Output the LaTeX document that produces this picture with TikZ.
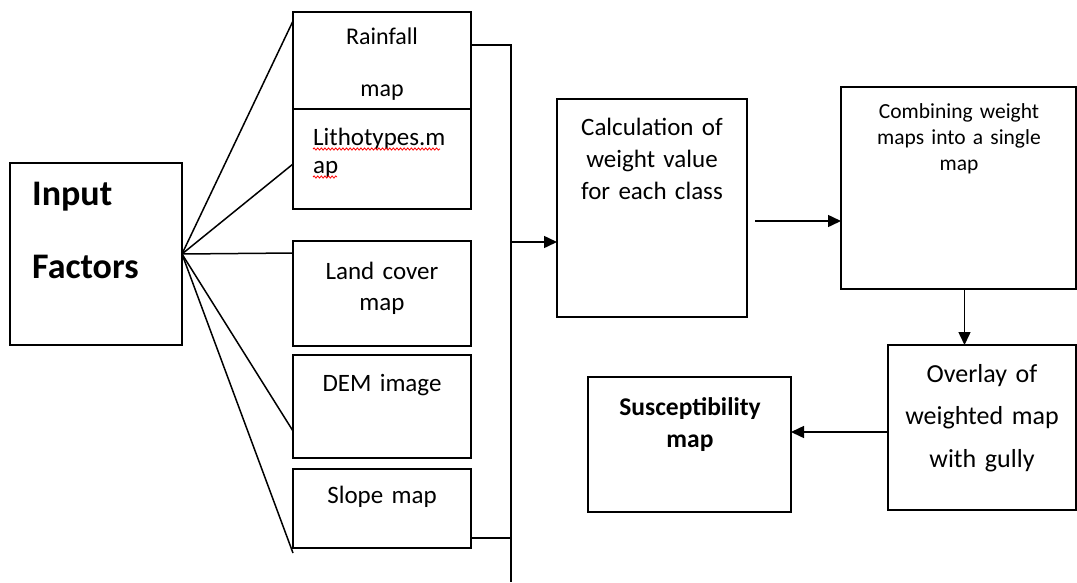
\documentclass[tikz,border=0pt]{standalone}
\usepackage{fontspec}
\setmainfont{Carlito}
\usetikzlibrary{calc,positioning,arrows.meta,decorations.pathmorphing}

\begin{document}
\begin{tikzpicture}[x=1pt, y=-1pt,
    box/.style={draw, line width=1.5pt, inner sep=0pt, outer sep=0pt, anchor=north west},
    txt/.style={anchor=base, inner sep=0pt, align=center, text width=#1},
    txt/.default=200pt,
    link/.style={line width=1.5pt},
    arr/.style={line width=1.5pt, -{Triangle[length=13pt,width=12pt]}},
    squig/.style={red, line width=0.8pt, decorate,
        decoration={snake, amplitude=1.1pt, segment length=3.6pt}}]
    \useasboundingbox (0,0) rectangle (1077,582);

    % input factors
    \node[box, minimum width=172pt, minimum height=182pt] (input) at (10,163) {};
    \node[anchor=base west, inner sep=0pt, align=left, text width=140pt,
        font=\fontsize{36}{73}\selectfont\bfseries] (inputtxt) at (32,205) {Input\\Factors};

    % factor maps
    \node[box, minimum width=178pt, minimum height=97pt]  (rain)  at (293,12)  {};
    \node[box, minimum width=178pt, minimum height=100pt] (litho) at (293,109) {};
    \node[box, minimum width=178pt, minimum height=105pt] (land)  at (293,241) {};
    \node[box, minimum width=178pt, minimum height=103pt] (dem)   at (293,355) {};
    \node[box, minimum width=178pt, minimum height=79pt]  (slope) at (293,469) {};
    \node[txt=170pt, font=\fontsize{24}{52}\selectfont] (raintxt) at (382,44) {Rainfall\\map};
    \node[anchor=base west, inner sep=0pt, align=left, text width=150pt,
        font=\fontsize{25}{28}\selectfont] (littxt) at (313,145) {Lithotypes.m\\ap};
    \node[txt=170pt, font=\fontsize{25}{31}\selectfont] (landtxt) at (382,279) {Land cover\\map};
    \node[txt=170pt, font=\fontsize{25}{31}\selectfont] (demtxt) at (382,391) {DEM image};
    \node[txt=170pt, font=\fontsize{25}{31}\selectfont] (slopetxt) at (382,503) {Slope map};
    % spelling marks
    \draw[squig] ([yshift=-4pt]littxt.base west) -- ++(127,0);
    \draw[squig] ([yshift=-32pt]littxt.base west) -- ++(24,0);

    % processing steps
    \node[box, minimum width=190pt, minimum height=218pt] (calc) at (557,99)  {};
    \node[box, minimum width=235pt, minimum height=202pt] (comb) at (841,87)  {};
    \node[box, minimum width=188pt, minimum height=165pt] (over) at (888,345) {};
    \node[box, minimum width=203pt, minimum height=135pt] (sus)  at (588,377) {};
    \node[txt=185pt, font=\fontsize{25}{32}\selectfont] (calctxt) at (652,135)
        {Calculation of\\weight value\\for each class};
    \node[txt=230pt, font=\fontsize{21.5}{26}\selectfont] (combtxt) at (959,118)
        {Combining weight\\maps into a single\\map};
    \node[txt=185pt, font=\fontsize{26}{42.5}\selectfont] (overtxt) at (982,382)
        {Overlay of\\weighted map\\with gully};
    \node[txt=200pt, font=\fontsize{25.5}{32}\selectfont\bfseries] (sustxt) at (690,415)
        {Susceptibility\\map};

    % fan from input box
    \foreach \tgt/\dy in {rain/9, litho/55, land/12, dem/76}
        \draw[link] (input.east) -- ([yshift=-\dy pt]\tgt.north west);
    \draw[link] (input.east) -- ([yshift=-5pt]slope.south west);

    % collecting line
    \coordinate (busbot) at (511,582);
    \coordinate (busin) at (511,242);
    \coordinate (slopeout) at ([yshift=-69pt]slope.north east);
    \draw[link] ([yshift=-33pt]rain.north east) -| (busbot);
    \draw[link] (slopeout) -- (slopeout -| busbot);
    \draw[arr] (busin) -- (busin -| calc.west);

    % flow between steps
    \coordinate (calcout) at ([shift={(8pt,-13pt)}]calc.east);
    \coordinate (combout) at ([xshift=6pt]comb.south);
    \coordinate (overout) at ([yshift=-4.5pt]over.west);
    \draw[arr] (calcout) -- (calcout -| comb.west);
    \draw[arr] (combout) -- (combout |- over.north);
    \draw[arr] (overout) -- (overout -| sus.east);
\end{tikzpicture}
\end{document}
